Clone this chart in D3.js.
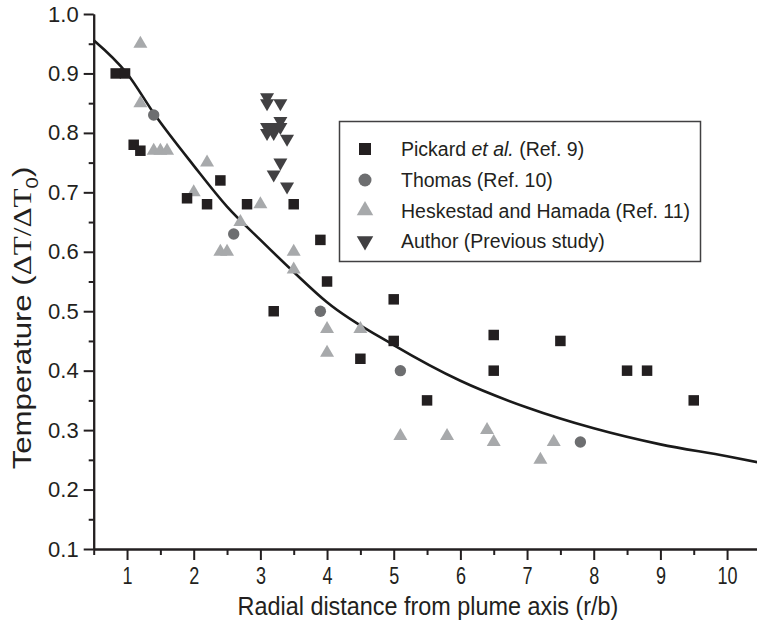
<!DOCTYPE html>
<html>
<head>
<meta charset="utf-8">
<script src="https://cdn.jsdelivr.net/npm/d3@7"></script>
<style>
  html, body { margin: 0; padding: 0; background: #fff; }
  svg { display: block; }
  text { font-family: "Liberation Sans", Arial, sans-serif; fill: #231f20; }
</style>
</head>
<body>
<div id="chart"></div>
<script>
// ---------------- data ----------------
const xTicks = [1, 2, 3, 4, 5, 6, 7, 8, 9, 10];
const yTicks = [0.1, 0.2, 0.3, 0.4, 0.5, 0.6, 0.7, 0.8, 0.9, 1.0];

const pickardX = [0.83, 0.97, 1.1, 1.2, 1.9, 2.2, 2.4, 2.8, 3.2, 3.5, 3.9, 4.0, 4.5, 5.0, 5.0, 5.5, 6.5, 6.5, 7.5, 8.5, 8.8, 9.5];
const pickardY = [0.90, 0.90, 0.78, 0.77, 0.69, 0.68, 0.72, 0.68, 0.50, 0.68, 0.62, 0.55, 0.42, 0.52, 0.45, 0.35, 0.46, 0.40, 0.45, 0.40, 0.40, 0.35];

const thomasX = [1.4, 2.6, 3.9, 5.1, 7.8];
const thomasY = [0.83, 0.63, 0.50, 0.40, 0.28];

const heskX = [1.2, 1.2, 1.4, 1.5, 1.6, 2.0, 2.2, 2.4, 2.5, 2.7, 3.0, 3.5, 3.5, 4.0, 4.0, 4.5, 5.1, 5.8, 6.4, 6.5, 7.2, 7.4];
const heskY = [0.95, 0.85, 0.77, 0.77, 0.77, 0.70, 0.75, 0.60, 0.60, 0.65, 0.68, 0.60, 0.57, 0.47, 0.43, 0.47, 0.29, 0.29, 0.30, 0.28, 0.25, 0.28];

const authorX = [3.1, 3.1, 3.3, 3.3, 3.1, 3.2, 3.3, 3.1, 3.2, 3.4, 3.3, 3.2, 3.4];
const authorY = [0.86, 0.85, 0.85, 0.82, 0.81, 0.81, 0.81, 0.80, 0.80, 0.79, 0.75, 0.73, 0.71];

// fitted curve
const curveX = [0.5, 1.0, 1.42, 2.0, 2.5, 3.0, 3.5, 4.0, 5.0, 6.0, 7.0, 8.0, 9.0, 10.0, 10.5];
const curveY = [0.956, 0.90, 0.83, 0.745, 0.676, 0.62, 0.566, 0.515, 0.443, 0.383, 0.338, 0.303, 0.276, 0.256, 0.245];

const legendLabels = ["Pickard", "Thomas (Ref. 10)", "Heskestad and Hamada (Ref. 11)", "Author (Previous study)"];

// ---------------- chart ----------------
const W = 757, H = 625;
const svg = d3.select("#chart").append("svg").attr("width", W).attr("height", H);

const x = d3.scaleLinear().domain([0.5, 10.5]).range([93.7, 760.4]);
const y = d3.scaleLinear().domain([0.1, 1.0]).range([549, 14]);

const ink = "#231f20";

// curve
const curveData = curveX.map((v, i) => [v, curveY[i]]);
svg.append("path")
  .datum(curveData)
  .attr("fill", "none")
  .attr("stroke", "#1a1a1a")
  .attr("stroke-width", 2.6)
  .attr("d", d3.line().x(d => x(d[0])).y(d => y(d[1])).curve(d3.curveMonotoneX));

// axes
const yMinor = d3.range(0.15, 1.0, 0.1).map(v => +v.toFixed(2));
const xMinor = d3.range(0.5, 10.6, 1).map(v => +v.toFixed(1));

function styleAxis(g) {
  g.selectAll("path.domain").attr("stroke", ink).attr("stroke-width", 2);
  g.selectAll(".tick line").attr("stroke", ink).attr("stroke-width", 2);
}

const gyMinor = svg.append("g").attr("transform", `translate(${x(0.5)},0)`)
  .call(d3.axisLeft(y).tickValues(yMinor).tickSize(5).tickSizeOuter(0).tickFormat(""));
styleAxis(gyMinor);

const gy = svg.append("g").attr("transform", `translate(${x(0.5)},0)`)
  .call(d3.axisLeft(y).tickValues(yTicks).tickSize(10).tickSizeOuter(0).tickPadding(5).tickFormat(d3.format(".1f")));
styleAxis(gy);
gy.selectAll("text").attr("font-size", 22).attr("font-family", "'Liberation Sans', Arial, sans-serif").attr("fill", ink);

const gxMinor = svg.append("g").attr("transform", `translate(0,${y(0.1)})`)
  .call(d3.axisBottom(x).tickValues(xMinor).tickSize(6).tickSizeOuter(0).tickFormat(""));
styleAxis(gxMinor);

const gx = svg.append("g").attr("transform", `translate(0,${y(0.1)})`)
  .call(d3.axisBottom(x).tickValues(xTicks).tickSize(11).tickSizeOuter(0).tickPadding(7).tickFormat(d3.format("d")));
styleAxis(gx);
gx.selectAll("text").attr("font-size", 24).attr("font-family", "'Liberation Sans', Arial, sans-serif")
  .attr("fill", ink).attr("transform", "scale(0.75,1)");

// axis titles
svg.append("text")
  .attr("transform", `translate(428,615) scale(0.9,1)`)
  .attr("text-anchor", "middle")
  .attr("font-size", 26)
  .text("Radial distance from plume axis (r/b)");

const yt = svg.append("text")
  .attr("transform", "translate(31,318) rotate(-90) scale(1.2,1)")
  .attr("text-anchor", "middle")
  .attr("font-size", 26);
yt.append("tspan").text("Temperature (");
yt.append("tspan").attr("font-family", "'Liberation Serif', 'Times New Roman', serif").text("\u0394T/\u0394T");
yt.append("tspan").attr("font-size", 17).attr("dy", 7).text("0");
yt.append("tspan").attr("dy", -7).text(")");

// markers
const cSquare = "#231f20", cCircle = "#6d6e70", cUp = "#a7a9ab", cDown = "#414042";
const sym = (type, size) => d3.symbol().type(type).size(size)();

function downTri(s) { // downward triangle path of width s
  const h = s * 0.86;
  return `M${-s/2},${-h/3}L${s/2},${-h/3}L0,${2*h/3}Z`;
}
function upTri(s) {
  const h = s * 0.86;
  return `M${-s/2},${h/3}L${s/2},${h/3}L0,${-2*h/3}Z`;
}

const gm = svg.append("g");
gm.selectAll("path.up").data(heskX.map((v, i) => [v, heskY[i]])).join("path")
  .attr("class", "up").attr("fill", cUp)
  .attr("transform", d => `translate(${x(d[0])},${y(d[1])})`)
  .attr("d", upTri(14));
gm.selectAll("path.circ").data(thomasX.map((v, i) => [v, thomasY[i]])).join("path")
  .attr("class", "circ").attr("fill", cCircle)
  .attr("transform", d => `translate(${x(d[0])},${y(d[1])})`)
  .attr("d", sym(d3.symbolCircle, Math.PI * 5.7 * 5.7));
gm.selectAll("path.sq").data(pickardX.map((v, i) => [v, pickardY[i]])).join("path")
  .attr("class", "sq").attr("fill", cSquare)
  .attr("transform", d => `translate(${x(d[0])},${y(d[1])})`)
  .attr("d", sym(d3.symbolSquare, 10.5 * 10.5));
gm.selectAll("path.dn").data(authorX.map((v, i) => [v, authorY[i]])).join("path")
  .attr("class", "dn").attr("fill", cDown)
  .attr("transform", d => `translate(${x(d[0])},${y(d[1])})`)
  .attr("d", downTri(14));

// legend
const lg = svg.append("g");
lg.append("rect").attr("x", 339.5).attr("y", 121.5).attr("width", 361).attr("height", 140)
  .attr("fill", "#fff").attr("stroke", "#414042").attr("stroke-width", 1.5);
const rowY = [149, 180, 210.5, 241];
lg.append("path").attr("transform", `translate(365,${rowY[0]})`).attr("fill", cSquare).attr("d", sym(d3.symbolSquare, 12 * 12));
lg.append("path").attr("transform", `translate(365,${rowY[1]})`).attr("fill", cCircle).attr("d", sym(d3.symbolCircle, Math.PI * 6.5 * 6.5));
lg.append("path").attr("transform", `translate(365,${rowY[2]})`).attr("fill", cUp).attr("d", upTri(16.5));
lg.append("path").attr("transform", `translate(365,${rowY[3]})`).attr("fill", cDown).attr("d", downTri(16.5));

rowY.forEach((ry, i) => {
  const t = lg.append("text").attr("x", 401).attr("y", ry + 7).attr("font-size", 19.5);
  if (i === 0) {
    t.append("tspan").text(legendLabels[0] + " ");
    t.append("tspan").attr("font-style", "italic").text("et al.");
    t.append("tspan").text(" (Ref. 9)");
  } else {
    t.text(legendLabels[i]);
  }
});
</script>
</body>
</html>
